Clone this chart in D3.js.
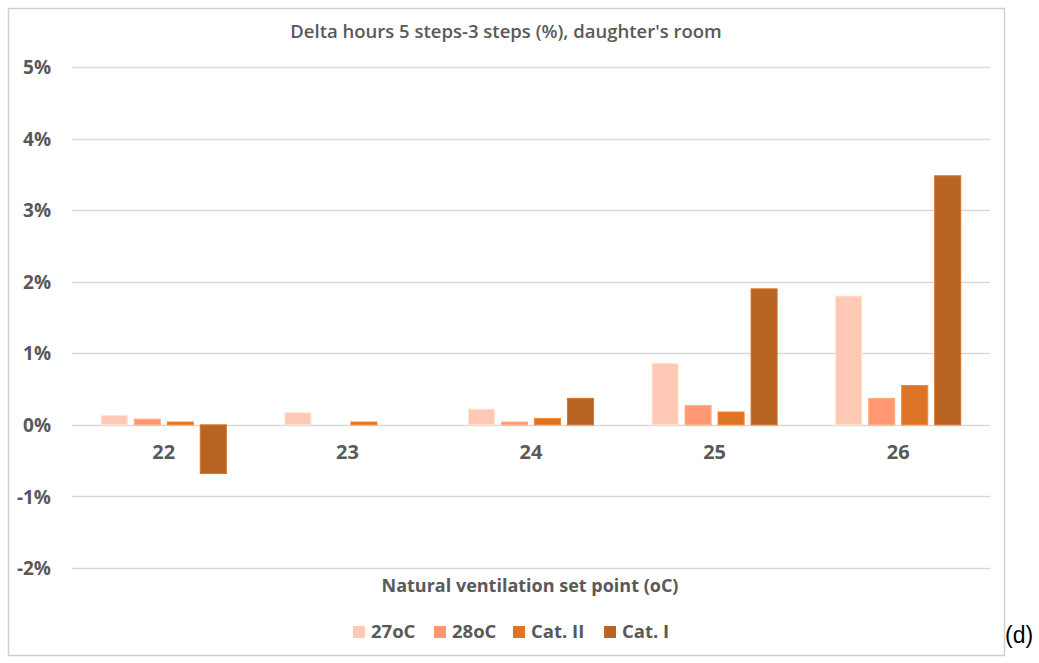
<!DOCTYPE html>
<html>
<head>
<meta charset="utf-8">
<script src="https://cdn.jsdelivr.net/npm/d3@7"></script>
<style>
  body { margin: 0; background: #fff; }
  svg text { font-family: "Open Sans", Calibri, sans-serif; }
</style>
</head>
<body>
<svg id="chart" width="1039" height="663"></svg>
<script>
// donnees
var categories = ["22", "23", "24", "25", "26"];
var seriesNames = ["27oC", "28oC", "Cat. II", "Cat. I"];
var s27 = [0.13, 0.17, 0.22, 0.86, 1.80];
var s28 = [0.08, 0.00, 0.04, 0.27, 0.37];
var catII = [0.04, 0.04, 0.09, 0.18, 0.55];
var catI = [-0.68, 0.00, 0.37, 1.90, 3.48];
var yTicks = [-2, -1, 0, 1, 2, 3, 4, 5];
var colors = ["#FFC9B5", "#FF9872", "#DD7327", "#BA6423"];

var seriesValues = [s27, s28, catII, catI];

var svg = d3.select("#chart");

// cadre
svg.append("rect")
  .attr("x", 8.5).attr("y", 8.5)
  .attr("width", 996).attr("height", 647)
  .attr("fill", "#fff").attr("stroke", "#d0d0d0").attr("stroke-width", 1.5);

var margin = {left: 72, right: 990, top: 67, bottom: 568};

var x = d3.scaleBand().domain(categories).range([margin.left, margin.right]).paddingInner(0).paddingOuter(0);
var x1 = d3.scaleBand().domain(seriesNames).range([0, x.bandwidth()]).paddingInner(0.21).paddingOuter(0.887);
var y = d3.scaleLinear().domain([-2, 5]).range([margin.bottom, margin.top]);

// grille
svg.append("g").selectAll("line")
  .data(yTicks).enter().append("line")
  .attr("x1", margin.left).attr("x2", margin.right)
  .attr("y1", function(d) { return Math.round(y(d)) + 0.5; })
  .attr("y2", function(d) { return Math.round(y(d)) + 0.5; })
  .attr("stroke", "#d9d9d9").attr("stroke-width", 1.3);

// axe y
var yAxis = d3.axisLeft(y).tickValues(yTicks).tickSize(0).tickPadding(0)
  .tickFormat(function(d) { return d + "%"; });
var gy = svg.append("g").attr("transform", "translate(51,0)").call(yAxis);
gy.select(".domain").remove();
gy.selectAll("text")
  .attr("fill", "#595959").attr("font-size", "19px").attr("font-weight", "bold")
  .attr("dy", "0.35em");

// barres
var groups = svg.append("g").selectAll("g")
  .data(seriesValues).enter().append("g")
  .attr("fill", function(d, i) { return colors[i]; });

groups.selectAll("rect")
  .data(function(d, i) { return d.map(function(v, j) { return {v: v, s: seriesNames[i], c: categories[j]}; }); })
  .enter().append("rect")
  .attr("x", function(d) { return x(d.c) + x1(d.s); })
  .attr("width", x1.bandwidth())
  .attr("y", function(d) { return y(Math.max(0, d.v)); })
  .attr("height", function(d) { return Math.abs(y(d.v) - y(0)); })
  .attr("stroke", function(d) { return d3.color(colors[seriesNames.indexOf(d.s)]).brighter(0.4); })
  .attr("stroke-width", function(d) { return d.v === 0 ? 0 : 1; });

// axe x (libelles)
var xAxis = d3.axisBottom(x).tickSize(0).tickPadding(0);
var gx = svg.append("g").attr("transform", "translate(0," + 452 + ")").call(xAxis);
gx.select(".domain").remove();
gx.selectAll("text")
  .attr("fill", "#595959").attr("font-size", "20px").attr("font-weight", "bold")
  .attr("dy", "0.35em");

// titre
svg.append("text")
  .attr("x", 506).attr("y", 38)
  .attr("text-anchor", "middle")
  .attr("fill", "#595959").attr("font-size", "18.5px").attr("font-weight", "600")
  .text("Delta hours 5 steps-3 steps (%), daughter's room");

// titre axe x
svg.append("text")
  .attr("x", 530).attr("y", 592)
  .attr("text-anchor", "middle")
  .attr("fill", "#595959").attr("font-size", "18px").attr("font-weight", "bold")
  .text("Natural ventilation set point (oC)");

// legende
var legX = [353, 434, 513, 604];
var leg = svg.append("g").selectAll("g")
  .data(seriesNames).enter().append("g")
  .attr("transform", function(d, i) { return "translate(" + legX[i] + ",626)"; });
leg.append("rect").attr("width", 12).attr("height", 12)
  .attr("fill", function(d, i) { return colors[i]; });
leg.append("text").attr("x", 18).attr("y", 6).attr("dy", "0.35em")
  .attr("fill", "#595959").attr("font-size", "18.5px").attr("font-weight", "bold")
  .text(function(d) { return d; });

// (d)
svg.append("text")
  .attr("x", 1005).attr("y", 643)
  .attr("fill", "#000").attr("font-size", "23px")
  .style("font-family", "Arial, 'Liberation Sans', sans-serif")
  .text("(d)");
</script>
</body>
</html>
